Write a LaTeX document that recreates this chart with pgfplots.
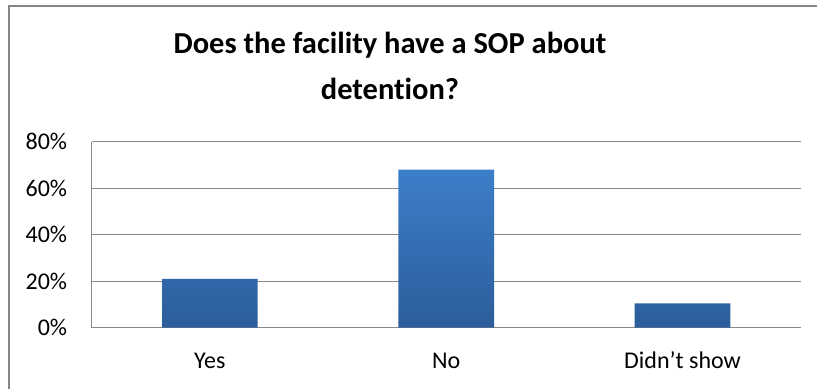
\documentclass[border=0pt]{standalone}
\usepackage{pgfplots}
\pgfplotsset{compat=1.18}
\usepackage{fontspec}
\setmainfont[Ligatures={NoCommon}]{Carlito}
\definecolor{bartop}{RGB}{60,126,201}
\definecolor{barbot}{RGB}{44,93,154}
\definecolor{gridgray}{RGB}{137,137,137}
\definecolor{framegray}{RGB}{134,134,134}
\begin{document}
\begin{tikzpicture}[x=1pt,y=1pt]
\path[use as bounding box] (0,0) rectangle (817,389);
\draw[framegray, line width=2pt, line cap=butt] (9,0) -- (9,383.2) -- (817,383.2);
\node[anchor=base, font=\fontsize{30.5}{36}\selectfont\bfseries] at (390,335.7) {Does the facility have a SOP about};
\node[anchor=base, font=\fontsize{30.5}{36}\selectfont\bfseries] at (390,289.7) {detention?};
\begin{axis}[
  at={(91.7pt,61.3pt)}, anchor=south west,
  scale only axis, width=709pt, height=186pt,
  xmin=-0.5, xmax=2.5, ymin=0, ymax=80,
  axis x line*=bottom, axis y line*=left,
  axis line style={gridgray, line width=1.3pt},
  xtick={0,1,2}, xticklabels={Yes,No,Didn’t show},
  ytick={0,20,40,60,80},
  yticklabel={\pgfmathprintnumber{\tick}\%},
  /pgf/number format/assume math mode=true,
  major tick length=0pt,
  ymajorgrids, grid style={gridgray, line width=1.3pt},
  tick label style={font=\fontsize{24}{28}\selectfont, black},
  yticklabel style={anchor=east, inner sep=0pt, xshift=-24.4pt},
  xticklabel style={anchor=base, inner sep=0pt, yshift=-40.3pt},
  clip=false,
]
\addplot[ybar, bar width=0.405, draw=none, top color=bartop, bottom color=barbot]
  coordinates {(0,21) (1,68) (2,10.5)};
\end{axis}
\end{tikzpicture}
\end{document}
